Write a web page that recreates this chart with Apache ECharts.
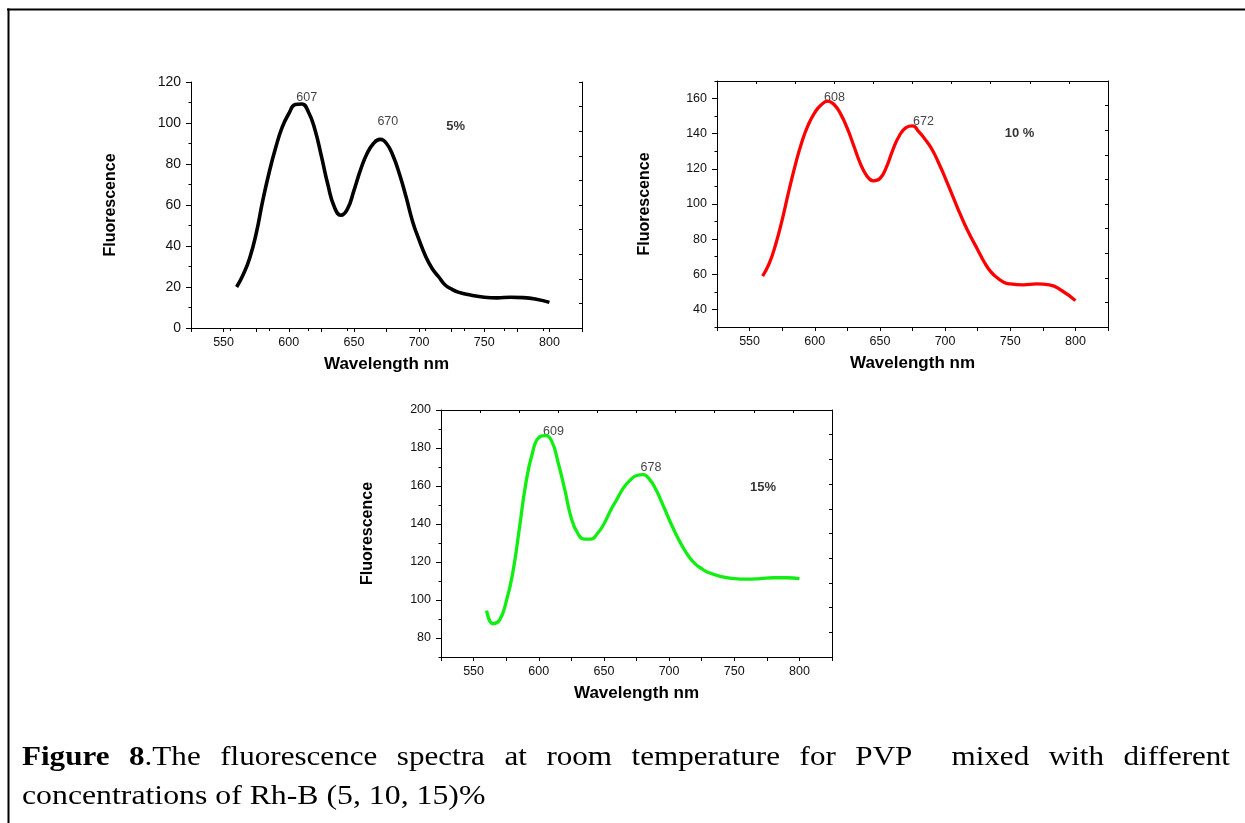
<!DOCTYPE html>
<html>
<head>
<meta charset="utf-8">
<script src="https://cdn.jsdelivr.net/npm/echarts@6/dist/echarts.min.js"></script>
<style>
  html, body { margin: 0; padding: 0; background: #fff; }
  #chart { width: 1245px; height: 823px; }
</style>
</head>
<body>
<div id="chart"></div>
<script>
// fluorescence spectra (wavelength nm / intensity)
const wl5 = [560, 565, 570, 575, 580, 585, 590, 595, 600, 605, 610, 615, 620, 625, 630, 635, 640, 645, 650, 655, 660, 665, 670, 675, 680, 685, 690, 695, 700, 705, 710, 715, 720, 725, 730, 740, 750, 760, 770, 780, 790, 800];
const fl5 = [20, 26, 34, 46, 62, 76, 88, 98, 104.5, 109, 109.3, 105.5, 97, 84, 70, 59, 55, 58, 67, 77, 85, 90, 92, 90, 84, 75, 64, 52, 43, 35, 29, 25, 21, 19, 17.5, 16, 15, 14.7, 15, 14.8, 14, 12.5];

const wl10 = [560, 565, 570, 575, 580, 585, 590, 595, 600, 605, 610, 615, 620, 625, 630, 635, 640, 645, 650, 655, 660, 665, 670, 675, 680, 685, 690, 695, 700, 705, 710, 715, 720, 725, 730, 735, 740, 745, 750, 760, 770, 780, 790, 800];
const fl10 = [59, 66, 77, 91, 107, 122, 135, 145, 152, 156.5, 158.5, 156.5, 151, 143, 133, 123, 116, 113.2, 114.5, 121, 131, 139, 143.5, 144.5, 141, 136.5, 131, 123.5, 115, 106, 97, 88.5, 81, 74, 67, 61.5, 58, 55.5, 54.5, 54, 54.5, 54, 50.5, 45];

const wl15 = [560, 565, 570, 575, 580, 585, 590, 595, 600, 605, 610, 615, 620, 625, 630, 635, 640, 645, 650, 655, 660, 665, 670, 675, 680, 685, 690, 695, 700, 705, 710, 715, 720, 725, 730, 740, 750, 760, 770, 780, 790, 800];
const fl15 = [94.5, 87.5, 89.5, 99, 114, 137, 161, 177, 185.5, 186.5, 183.5, 172, 158, 143, 135, 132, 132, 135, 140, 147, 153, 159, 163, 165.5, 166, 163.5, 158, 150.5, 142.5, 135, 128.5, 123, 119, 116.5, 114.5, 112.3, 111.3, 111, 111.3, 111.7, 111.7, 111.3];

const xTicks = [550, 600, 650, 700, 750, 800];
const yTicks5 = [0, 20, 40, 60, 80, 100, 120];
const yTicks10 = [40, 60, 80, 100, 120, 140, 160];
const yTicks15 = [80, 100, 120, 140, 160, 180, 200];

const peaks5 = ['607', '670'];
const peaks10 = ['608', '672'];
const peaks15 = ['609', '678'];
const concLabels = ['5%', '10 %', '15%'];

const captionLine1 = [
  ['Figure', true, 1], ['8', true, 0], ['.The', false, 1], ['fluorescence', false, 1],
  ['spectra', false, 1], ['at', false, 1], ['room', false, 1], ['temperature', false, 1],
  ['for', false, 1], ['PVP', false, 2], ['mixed', false, 1], ['with', false, 1], ['different', false, 0]
];
const captionLine2 = 'concentrations of Rh-B (5, 10, 15)%';

const sans = '"Liberation Sans", Arial, sans-serif';
const serif = '"Liberation Serif", "Times New Roman", serif';
const titleStyle = { fontFamily: sans, fontWeight: 'bold', fontSize: 16, color: '#000' };
const blackLine = { lineStyle: { color: '#000', width: 1 } };

// panel placement, label spots in data coordinates
const panels = [
  { grid: { left: 191, top: 82, width: 391, height: 246 }, ymin: 0, ymax: 120, yTicks: yTicks5, yFont: 14,
    wl: wl5, fl: fl5, color: '#000000', lw: 3.6, peaks: peaks5,
    peakPos: [[613.8, 112.4], [676, 100.5]], conc: concLabels[0], concPos: [728, 98.4], nameGap: 72 },
  { grid: { left: 717, top: 81, width: 391, height: 246 }, ymin: 30, ymax: 170, yTicks: yTicks10, yFont: 12.5,
    wl: wl10, fl: fl10, color: '#ff0000', lw: 3.3, peaks: peaks10,
    peakPos: [[615.1, 160.4], [683.4, 147.2]], conc: concLabels[1], concPos: [757.1, 140], nameGap: 64 },
  { grid: { left: 441, top: 410, width: 391, height: 247 }, ymin: 70, ymax: 200, yTicks: yTicks15, yFont: 12.5,
    wl: wl15, fl: fl15, color: '#11ee11', lw: 3.3, peaks: peaks15,
    peakPos: [[611.3, 188.6], [686.1, 169.6]], conc: concLabels[2], concPos: [772.1, 159.2], nameGap: 65 }
];

const grid = [], xAxis = [], yAxis = [], series = [];
panels.forEach(function (p, i) {
  grid.push(p.grid);
  const xb = xAxis.length;
  xAxis.push({
    gridIndex: i, type: 'value', position: 'bottom', min: 525, max: 825, interval: 25,
    name: 'Wavelength nm', nameLocation: 'middle', nameGap: 28, nameTextStyle: Object.assign({}, titleStyle, { fontSize: 17 }),
    axisLine: blackLine, axisTick: { length: 4, lineStyle: { color: '#000' } },
    axisLabel: { customValues: xTicks, margin: 8, fontFamily: sans, fontSize: 12.5, color: '#111' },
    splitLine: { show: false }
  });
  xAxis.push({
    gridIndex: i, type: 'value', position: 'top', min: 0, max: 10, interval: 1,
    axisLine: blackLine, axisTick: { inside: true, length: 3, lineStyle: { color: '#000' } },
    axisLabel: { show: false }, splitLine: { show: false }
  });
  const yl = yAxis.length;
  yAxis.push({
    gridIndex: i, type: 'value', position: 'left', min: p.ymin, max: p.ymax,
    name: 'Fluorescence', nameLocation: 'middle', nameRotate: 90, nameGap: p.nameGap, nameTextStyle: titleStyle,
    axisLine: blackLine, axisTick: { customValues: p.yTicks, length: 5, lineStyle: { color: '#000' } },
    axisLabel: { customValues: p.yTicks, margin: 10, fontFamily: sans, fontSize: p.yFont, color: '#111' },
    splitLine: { show: false }
  });
  // minor ticks every 10
  yAxis.push({
    gridIndex: i, type: 'value', position: 'left', min: p.ymin, max: p.ymax, interval: 10,
    axisLine: { show: false }, axisTick: { length: 2.5, lineStyle: { color: '#000' } },
    axisLabel: { show: false }, splitLine: { show: false }
  });
  yAxis.push({
    gridIndex: i, type: 'value', position: 'right', min: 0, max: 10, interval: 1,
    axisLine: blackLine, axisTick: { inside: true, length: 3, lineStyle: { color: '#000' } },
    axisLabel: { show: false }, splitLine: { show: false }
  });

  series.push({
    type: 'line', xAxisIndex: xb, yAxisIndex: yl, silent: true,
    data: p.wl.map(function (w, k) { return [w, p.fl[k]]; }),
    smooth: 0.5, showSymbol: false,
    lineStyle: { color: p.color, width: p.lw }, itemStyle: { color: p.color }
  });
  const notes = p.peaks.map(function (t, k) { return { name: t, value: p.peakPos[k] }; });
  notes.push({ name: p.conc, value: p.concPos, label: { fontWeight: 'bold', fontSize: 13, color: '#000' } });
  series.push({
    type: 'scatter', xAxisIndex: xb, yAxisIndex: yl, silent: true, symbolSize: 0,
    data: notes,
    label: { show: true, position: 'inside', formatter: '{b}', fontFamily: sans, fontSize: 12.5, color: '#111' }
  });
});

// caption (the scan is a little wide, hence scaleX); first line justified
const ctx = document.createElement('canvas').getContext('2d');
const capSize = 28, capStretch = 1.11;
function capFont(bold) { return (bold ? 'bold ' : '') + capSize + 'px ' + serif; }
const left = 22, right = 1230;
let wordsW = 0, gapUnits = 0;
captionLine1.forEach(function (w) {
  ctx.font = capFont(w[1]);
  w.push(ctx.measureText(w[0]).width * capStretch);
  wordsW += w[3];
  gapUnits += w[2];
});
const unit = (right - left - wordsW) / gapUnits;
const graphic = [];
let cx = left;
captionLine1.forEach(function (w) {
  graphic.push({ type: 'text', x: cx, y: 758, scaleX: capStretch, silent: true,
    style: { text: w[0], font: capFont(w[1]), fill: '#000', verticalAlign: 'middle' } });
  cx += w[3] + w[2] * unit;
});
graphic.push({ type: 'text', x: left, y: 796.5, scaleX: 1.135, silent: true,
  style: { text: captionLine2, font: capFont(false), fill: '#000', verticalAlign: 'middle' } });
// frame of the figure cell
graphic.push({ type: 'line', silent: true, shape: { x1: 7, y1: 9.5, x2: 1245, y2: 9.5 }, style: { stroke: '#000', lineWidth: 2 } });
graphic.push({ type: 'line', silent: true, shape: { x1: 8.5, y1: 8.5, x2: 8.5, y2: 823 }, style: { stroke: '#000', lineWidth: 2 } });

const chart = echarts.init(document.getElementById('chart'));
chart.setOption({
  backgroundColor: '#fff',
  animation: false,
  grid: grid,
  xAxis: xAxis,
  yAxis: yAxis,
  series: series,
  graphic: graphic
});
</script>
</body>
</html>
